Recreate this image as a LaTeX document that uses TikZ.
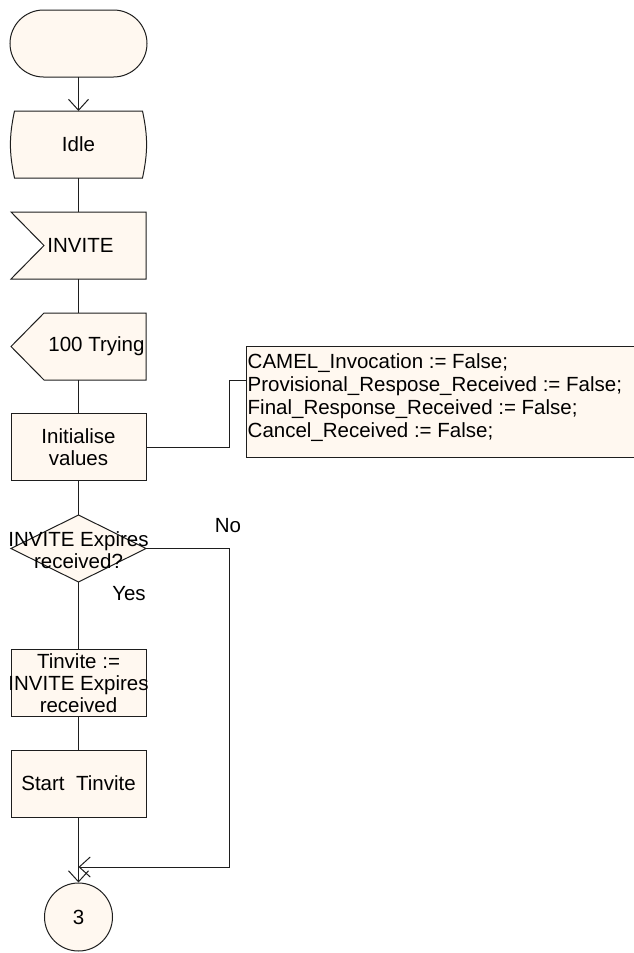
\documentclass[tikz,border=0pt]{standalone}
\usepackage{fontspec}
\setmainfont{Liberation Sans}
\usetikzlibrary{arrows.meta,shapes.geometric,backgrounds,calc}
\definecolor{fc}{RGB}{255,248,240}
\definecolor{lc}{RGB}{30,30,30}
\newcommand\ctext[1]{\makebox[0pt]{\begin{tabular}{@{}c@{}}#1\end{tabular}}}
\begin{document}
\begin{tikzpicture}[x=1pt,y=-1pt,
  every node/.style={font=\fontsize{20.5}{22}\selectfont, text=black},
  sdlframe/.style={minimum width=135pt, minimum height=67pt, inner sep=0pt, outer sep=0pt, align=center},
  sdlbox/.style={sdlframe, draw=lc, fill=fc, line width=1pt},
  sdloutline/.style={draw=lc, fill=fc, line width=1pt},
  sdlflow/.style={draw=lc, line width=1pt},
  vee/.style={-{Straight Barb[length=11pt,width=20pt]}},
  lbl/.style={inner sep=0pt}]
\useasboundingbox (0,0) rectangle (633,953);

% nodes
\node[sdlbox, rounded corners=33.5pt, minimum width=137pt] (start) at (78.5,43.5) {};
\node[sdlframe, minimum width=136pt] (idle) at (78.5,144.5) {Idle};
\node[sdlframe] (inv) at (78.5,245.5) {\hspace*{4pt}INVITE};
\node[sdlframe] (try) at (78.5,346.5) {\hspace*{36pt}100 Trying};
\node[sdlbox] (init) at (78.5,447) {Initialise\\values};
\node[sdlframe] (dec) at (78.5,548.5) {\raisebox{-10pt}[0pt][0pt]{\ctext{INVITE Expires\\received?}}};
\node[sdlbox] (tin) at (78.5,683) {\raisebox{-8pt}[0pt][0pt]{\ctext{Tinvite :=\\INVITE Expires\\received}}};
\node[sdlbox] (st) at (78.5,783.5) {Start\ \ Tinvite};
\node[circle, draw=lc, fill=fc, line width=1pt, minimum size=68pt, inner sep=0pt] (con) at (78.5,917) {3};
\node[draw=lc, fill=fc, line width=1pt, anchor=north west, minimum width=440pt, minimum height=111pt, inner sep=0pt] (cmt) at (246,346) {};
\node[anchor=north west, inner sep=0pt, align=left, font=\fontsize{20.5}{23}\selectfont] (cmtt) at (247.5,353.5)
  {CAMEL\_Invocation := False;\\Provisional\_Respose\_Received := False;\\Final\_Response\_Received := False;\\Cancel\_Received := False;};
\node[lbl] (yes) at (129,594) {Yes};
\node[lbl] (no) at (228,526) {No};

% shapes behind the texts
\begin{scope}[on background layer]
  \path[sdloutline] ([xshift=4pt]idle.north west) -- ([xshift=-4pt]idle.north east)
     to[bend left=12] ([xshift=-4pt]idle.south east) -- ([xshift=4pt]idle.south west)
     to[bend left=12] cycle;
  \path[sdloutline] (inv.north west) -- (inv.north east) -- (inv.south east) -- (inv.south west)
     -- ([xshift=33pt]inv.west) -- cycle;
  \path[sdloutline] ([xshift=33pt]try.north west) -- (try.north east) -- (try.south east)
     -- ([xshift=33pt]try.south west) -- (try.west) -- cycle;
  \path[sdloutline] (dec.north) -- (dec.east) -- (dec.south) -- (dec.west) -- cycle;
\end{scope}

% connectors
\coordinate (cin) at ($(cmt.north west)+(0,34)$);
\coordinate (join) at (78.5,867);
\draw[sdlflow, vee] (start) -- (idle);
\draw[sdlflow] (idle) -- (inv);
\draw[sdlflow] (inv) -- (try);
\draw[sdlflow] (try) -- (init);
\draw[sdlflow] (init) -- (dec.north);
\draw[sdlflow] (dec.south) -- (tin);
\draw[sdlflow] (tin) -- (st);
\draw[sdlflow, vee] (st) -- (con);
\draw[sdlflow] (init.east) -| ([xshift=-17pt]cin) -- (cin);
\draw[sdlflow, vee] (dec.east) -- ++(83,0) |- (join);
\end{tikzpicture}
\end{document}
